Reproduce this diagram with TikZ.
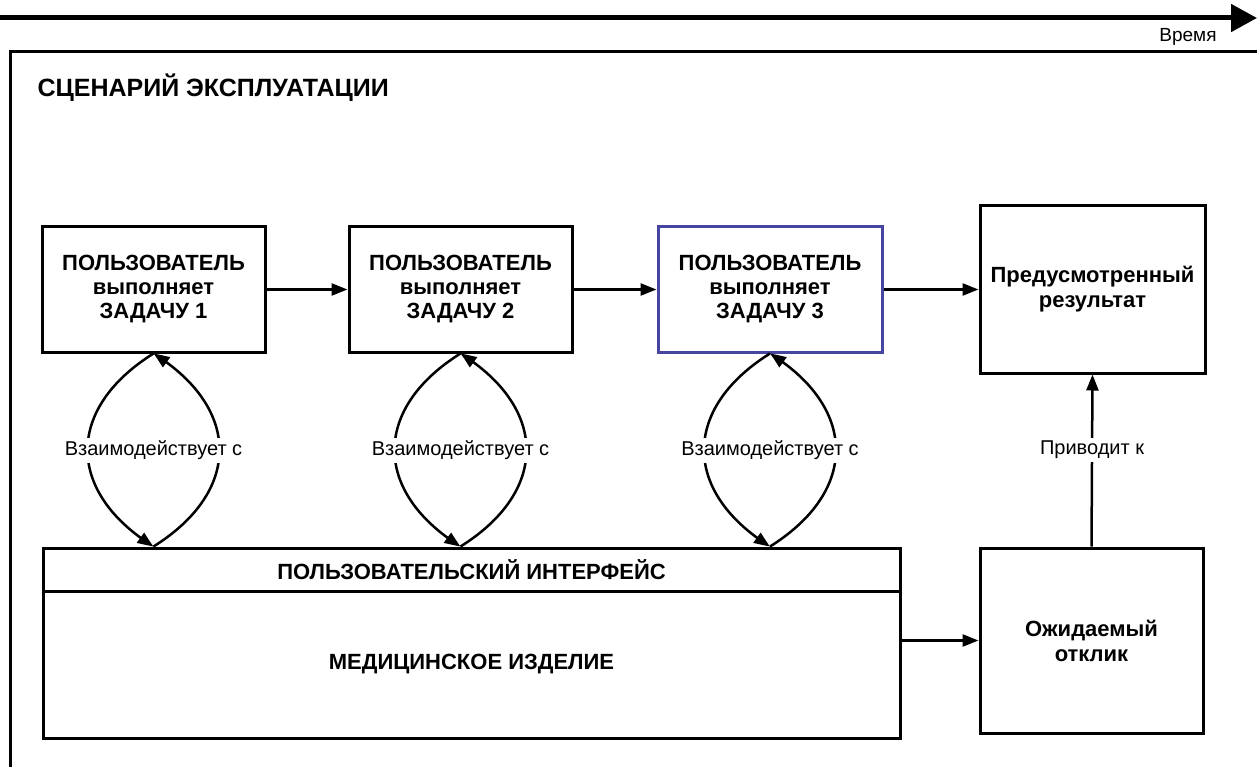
\documentclass[tikz,border=0pt]{standalone}
\usepackage{fontspec}
\setmainfont{Liberation Sans}
\usetikzlibrary{arrows.meta,bending,calc}
\definecolor{boxblue}{RGB}{70,70,160}
\begin{document}
\begin{tikzpicture}[x=1pt,y=-1pt,
  taskbox/.style={draw,line width=3pt,minimum width=223pt,minimum height=125pt,align=center,inner sep=2pt,
     font=\fontsize{22}{24}\selectfont\bfseries},
  bigbox/.style={draw,line width=3pt,align=center,inner sep=2pt,font=\fontsize{22}{25}\selectfont\bfseries},
  conn/.style={line width=2.5pt,-{Triangle[length=16pt,width=12pt,bend]}},
  lbl/.style={fill=white,inner sep=3pt,font=\fontsize{20}{22}\selectfont},
]
\clip (0,0) rectangle (1257,767);
\fill[white] (0,0) rectangle (1257,767);
% time axis
\coordinate (t0) at (0,18);
\coordinate (t1) at (1257,18);
\draw[line width=5pt,-{Triangle[length=26pt,width=27pt]}] (t0) -- (t1);
\node[font=\fontsize{19}{21}\selectfont] (time) at (1188,37) {Время};
% frame
\draw[line width=3pt] (10,52) rectangle (1290,800);
\node[anchor=west,font=\fontsize{25}{28}\selectfont\bfseries] (title) at (34,88) {СЦЕНАРИЙ ЭКСПЛУАТАЦИИ};
% task boxes
\node[taskbox] (b1) at (153.5,289.5) {ПОЛЬЗОВАТЕЛЬ\\выполняет\\ЗАДАЧУ 1};
\node[taskbox] (b2) at (460.5,289.5) {ПОЛЬЗОВАТЕЛЬ\\выполняет\\ЗАДАЧУ 2};
\node[taskbox,draw=boxblue,minimum width=224pt] (b3) at (770,289.5) {ПОЛЬЗОВАТЕЛЬ\\выполняет\\ЗАДАЧУ 3};
\node[bigbox,minimum width=225pt,minimum height=167pt] (res) at (1092.5,289.5) {Предусмотренный\\результат};
\node[bigbox,minimum width=223pt,minimum height=185pt] (resp) at (1091.5,640.5) {Ожидаемый\\отклик};
% device
\node[bigbox,minimum width=857pt,minimum height=43pt] (ui) at (471.5,569.5) {ПОЛЬЗОВАТЕЛЬСКИЙ ИНТЕРФЕЙС};
\node[bigbox,minimum width=857pt,minimum height=147pt] (dev) at (471.5,664.5) {МЕДИЦИНСКОЕ ИЗДЕЛИЕ};
% flow arrows
\draw[conn] (b1.east) -- (b2.west);
\draw[conn] (b2.east) -- (b3.west);
\draw[conn] (b3.east) -- (res.west);
\draw[conn] (resp.north) -- node[lbl,pos=0.56] (lead) {Приводит к} (res.south);
\draw[conn] (resp.west -| dev.east) -- (resp.west);
% interaction loops
\foreach \b in {b1,b2,b3}{
  \coordinate (\b bot) at (\b.south |- ui.north);
  \draw[conn] (\b.south) .. controls +(-88,55) and +(-88,-55) .. (\b bot);
  \draw[conn] (\b bot) .. controls +(88,-55) and +(88,55) .. (\b.south);
  \node[lbl] (\b lbl) at ($(\b.south)!0.5!(\b bot)$) {Взаимодействует с};
}
\end{tikzpicture}
\end{document}
